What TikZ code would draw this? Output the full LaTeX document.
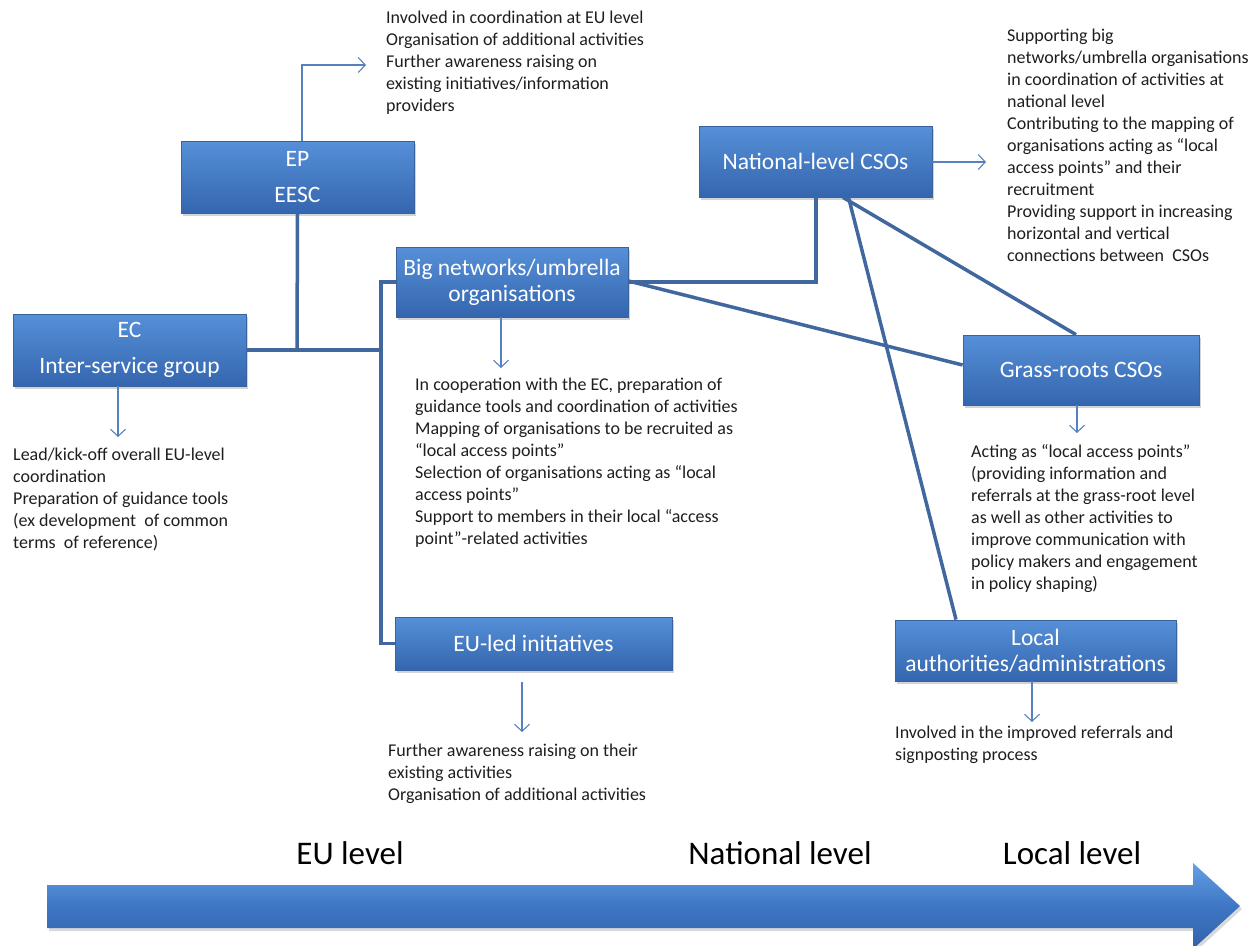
\documentclass[tikz,border=0pt]{standalone}
\usepackage{fontspec}
\setmainfont{Carlito}
\usetikzlibrary{arrows.meta,shadows}
\definecolor{boxtop}{RGB}{86,144,216}
\definecolor{boxbot}{RGB}{52,102,175}
\definecolor{boxedge}{RGB}{58,98,156}
\definecolor{conn}{RGB}{64,103,158}
\definecolor{thinc}{RGB}{84,130,190}
\definecolor{textc}{RGB}{30,30,30}
\definecolor{arrtop}{RGB}{100,160,230}
\definecolor{arrmid}{RGB}{62,118,196}
\definecolor{arrbot}{RGB}{50,98,170}
\tikzset{
  box/.style={draw=boxedge, line width=0.8pt, top color=boxtop, bottom color=boxbot,
    text=white, font=\fontsize{23.5}{26}\selectfont, align=center, inner sep=0pt,
    drop shadow={opacity=0.35, shadow xshift=2pt, shadow yshift=-3pt}},
  annot/.style={anchor=north west, inner sep=0pt, align=left,
    font=\fontsize{18}{22}\selectfont, text=textc},
  connline/.style={draw=conn, line width=3.5pt},
  thinarr/.style={draw=thinc, line width=1.1pt, -{Straight Barb[length=7pt,width=15pt]}},
  levellabel/.style={font=\fontsize{33}{36}\selectfont, text=black, inner sep=0pt}
}
\begin{document}
\begin{tikzpicture}[x=1pt,y=-1pt]
\useasboundingbox (0,0) rectangle (1257,945);

% boxes
\node[box, minimum width=233pt, minimum height=72pt] (ep) at (297.5,177) {EP\\[10pt]EESC};
\node[box, minimum width=233pt, minimum height=72pt] (ec) at (129.5,350) {EC\\[10pt]Inter-service group};
\node[box, minimum width=232pt, minimum height=70pt] (bn) at (512,282) {Big networks/umbrella\\organisations};
\node[box, minimum width=277pt, minimum height=53pt] (eu) at (533.5,643.5) {EU-led initiatives};
\node[box, minimum width=233pt, minimum height=71pt] (nat) at (815.5,161.5) {National-level CSOs};
\node[box, minimum width=236pt, minimum height=70pt] (gr) at (1081,370) {Grass-roots CSOs};
\node[box, minimum width=281pt, minimum height=61pt] (la) at (1035.5,650.5) {Local\\authorities/administrations};

% thick connectors
\coordinate (ecj) at (297,350);
\coordinate (vj) at (381,350);
\coordinate (nb) at (816,282);
\draw[connline] (ep.south) -- (ecj);
\draw[connline] (ec.east) -- (vj);
\draw[connline] (bn.west) -- (bn.west -| vj) -- (eu.west -| vj) -- (eu.west);
\draw[connline] (bn.east) -- (nb) -- (nb |- nat.south);
\draw[connline] ([yshift=1pt]bn.east) -- ([yshift=5pt]gr.west);
\draw[connline] ([xshift=27.5pt]nat.south) -- ([xshift=-5pt]gr.north);
\draw[connline] ([xshift=33pt]nat.south) -- ([xshift=-79.5pt]la.north);

% thin arrows
\coordinate (epA) at (302,65);
\coordinate (epE) at (366,65);
\draw[thinarr] (ep.north -| epA) -- (epA) -- (epE);
\coordinate (ecE) at (118,437);
\draw[thinarr] (ec.south -| ecE) -- (ecE);
\coordinate (bnE) at (501,368);
\draw[thinarr] (bn.south -| bnE) -- (bnE);
\coordinate (euS) at (522,682);
\coordinate (euE) at (522,732);
\draw[thinarr] (euS) -- (euE);
\coordinate (natE) at (986,162);
\draw[thinarr] (nat.east |- natE) -- (natE);
\coordinate (grE) at (1077,433);
\draw[thinarr] (gr.south -| grE) -- (grE);
\coordinate (laE) at (1032,722);
\draw[thinarr] (la.south -| laE) -- (laE);

% annotations
\node[annot] (tEP) at (386,11) {Involved in coordination at EU level\\Organisation of additional activities\\Further awareness raising on\\existing initiatives/information\\providers};
\node[annot] (tNat) at (1007,29) {Supporting big\\networks/umbrella organisations\\in coordination of activities at\\national level\\Contributing to the mapping of\\organisations acting as “local\\access points” and their\\recruitment\\Providing support in increasing\\horizontal and vertical\\connections between\ \ CSOs};
\node[annot] (tEC) at (13,448) {Lead/kick-off overall EU-level\\coordination\\Preparation of guidance tools\\(ex development\ \ of common\\terms\ \ of reference)};
\node[annot] (tBN) at (415,378) {In cooperation with the EC, preparation of\\guidance tools and coordination of activities\\Mapping of organisations to be recruited as\\“local access points”\\Selection of organisations acting as “local\\access points”\\Support to members in their local “access\\point”-related activities};
\node[annot] (tGR) at (971,444) {Acting as “local access points”\\(providing information and\\referrals at the grass-root level\\as well as other activities to\\improve communication with\\policy makers and engagement\\in policy shaping)};
\node[annot] (tEU) at (388,744) {Further awareness raising on their\\existing activities\\Organisation of additional activities};
\node[annot] (tLA) at (895,726) {Involved in the improved referrals and\\signposting process};

% bottom level arrow
\path[top color=arrtop, bottom color=arrbot, middle color=arrmid,
  drop shadow={opacity=0.3, shadow xshift=2pt, shadow yshift=-3pt}]
  (47,885) -- (1193,885) -- (1193,863) -- (1240,906) -- (1193,949) -- (1193,928) -- (47,928) -- cycle;
\node[levellabel] (lEU) at (350,853) {EU level};
\node[levellabel] (lNat) at (780,853) {National level};
\node[levellabel] (lLoc) at (1072,853) {Local level};
\end{tikzpicture}
\end{document}
